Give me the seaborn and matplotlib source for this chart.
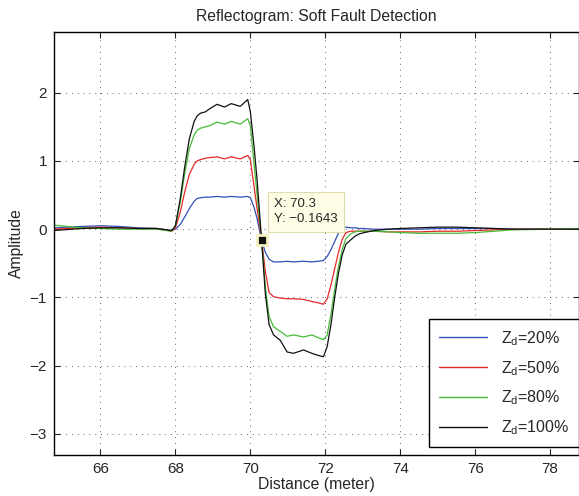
import numpy as np
import pandas as pd
import seaborn as sns
from matplotlib import pyplot as plt

# distance samples (meter)
dist = [64.75, 65.5, 66.0, 66.5, 67.0, 67.5, 67.9,
        68.0, 68.13, 68.25, 68.37, 68.5, 68.58, 68.67, 68.8, 68.93, 69.11, 69.31, 69.49, 69.73, 69.93,
        70.0, 70.1, 70.18, 70.3, 70.4, 70.5, 70.62, 70.8, 70.98, 71.15, 71.42, 71.64, 71.81, 71.95,
        72.05, 72.15, 72.25, 72.35, 72.45, 72.55, 72.67, 72.8, 72.9,
        73.04, 73.3, 73.7, 74.0, 74.5, 75.0, 75.5, 76.0, 76.5, 77.0, 78.0, 79.2]

zd20 = [0.02, 0.04, 0.05, 0.04, 0.02, 0.01, -0.02,
        0.0, 0.07, 0.18, 0.30, 0.41, 0.45, 0.46, 0.47, 0.47, 0.48, 0.47, 0.48, 0.47, 0.48,
        0.46, 0.32, 0.15, -0.16, -0.34, -0.44, -0.48, -0.48, -0.47, -0.48, -0.47, -0.48, -0.47, -0.46,
        -0.40, -0.30, -0.18, -0.06, 0.02, 0.03, 0.02, 0.02, 0.01,
        0.01, 0.0, 0.0, 0.0, 0.0, 0.01, 0.01, 0.01, 0.01, 0.0, 0.0, 0.0]

zd50 = [0.0, 0.02, 0.03, 0.02, 0.01, 0.01, -0.03,
        0.02, 0.25, 0.55, 0.80, 0.95, 1.00, 1.02, 1.04, 1.05, 1.06, 1.03, 1.06, 1.03, 1.08,
        1.02, 0.62, 0.30, -0.16, -0.62, -0.93, -0.99, -1.01, -1.02, -1.02, -1.03, -1.06, -1.08, -1.10,
        -1.02, -0.82, -0.58, -0.34, -0.15, -0.05, -0.03, -0.03, -0.03,
        -0.03, -0.03, -0.04, -0.04, -0.04, -0.03, -0.03, -0.02, -0.01, 0.0, 0.0, 0.0]

zd80 = [0.06, 0.02, 0.01, 0.0, 0.0, 0.0, -0.03,
        0.05, 0.40, 0.82, 1.18, 1.38, 1.45, 1.48, 1.50, 1.52, 1.57, 1.54, 1.58, 1.54, 1.62,
        1.52, 0.95, 0.50, -0.16, -0.85, -1.28, -1.43, -1.50, -1.57, -1.55, -1.58, -1.55, -1.59, -1.62,
        -1.55, -1.25, -0.88, -0.55, -0.30, -0.14, -0.07, -0.04, -0.03,
        -0.03, -0.03, -0.04, -0.05, -0.06, -0.06, -0.06, -0.05, -0.03, -0.01, 0.0, 0.01]

zd100 = [-0.02, 0.01, 0.02, 0.02, 0.01, 0.01, -0.02,
         0.05, 0.45, 0.92, 1.32, 1.58, 1.66, 1.70, 1.72, 1.77, 1.83, 1.79, 1.84, 1.80, 1.90,
         1.72, 1.20, 0.72, -0.16, -0.95, -1.40, -1.55, -1.63, -1.80, -1.82, -1.77, -1.82, -1.85, -1.87,
         -1.72, -1.40, -1.00, -0.65, -0.38, -0.22, -0.16, -0.10, -0.07,
         -0.05, -0.02, 0.0, 0.01, 0.02, 0.03, 0.03, 0.02, 0.01, 0.0, 0.0, 0.0]

labels = ['$\\mathregular{Z_d}$=20%', '$\\mathregular{Z_d}$=50%',
          '$\\mathregular{Z_d}$=80%', '$\\mathregular{Z_d}$=100%']
colors = ['#3350b8', '#e62828', '#45bb35', '#111111']

tip_x, tip_y = 70.3, -0.1643

dfs = []
for lab, y in zip(labels, [zd20, zd50, zd80, zd100]):
    d = pd.DataFrame({'dist': dist, 'amp': y})
    d['series'] = lab
    dfs.append(d)
df = pd.concat(dfs)

sns.set_style('ticks')
plt.rcParams['font.family'] = ['Liberation Sans', 'DejaVu Sans']
plt.rcParams['mathtext.fontset'] = 'custom'
plt.rcParams['mathtext.rm'] = 'Liberation Sans'
plt.rcParams['mathtext.it'] = 'Liberation Sans'

fig = plt.figure(figsize=(5.79, 4.96), dpi=100)
ax = fig.add_axes([54 / 579, 41 / 496, 525 / 579, 423 / 496])

sns.lineplot(data=df, x='dist', y='amp', hue='series', palette=colors,
             sort=False, estimator=None, linewidth=0.9, ax=ax)

ax.set_xlim(64.76, 78.77)
ax.set_ylim(-3.31, 2.89)
ax.set_xticks(range(66, 79, 2))
ax.set_yticks(range(-3, 3))
ax.set_yticklabels(['\u22123', '\u22122', '\u22121', '0', '1', '2'])
ax.tick_params(direction='in', length=4, labelsize=11, top=True, right=True, width=0.8, pad=5)
ax.grid(True, linestyle=(0, (1, 6)), color='#333333', linewidth=0.6)
for s in ax.spines.values():
    s.set_linewidth(1.0)
    s.set_color('black')

ax.set_xlabel('Distance (meter)', fontsize=11.3, labelpad=1)
ax.set_ylabel('Amplitude', fontsize=11.3, labelpad=4)
ax.set_title('Reflectogram: Soft Fault Detection', fontsize=11.3, pad=8)

# data tip
ax.plot([tip_x], [tip_y], marker='s', markersize=7, color='#111111',
        markeredgecolor='#f5f0c0', markeredgewidth=2, zorder=6)
ax.annotate('X: 70.3\nY: \u22120.1643', xy=(tip_x, tip_y), xytext=(9, 11),
            textcoords='offset points', fontsize=9.5, va='bottom', ha='left',
            linespacing=1.3,
            bbox=dict(boxstyle='square,pad=0.5', fc='#fffde6', ec='#e0dcb0', lw=0.8),
            zorder=7)

leg = ax.legend(loc='lower right', bbox_to_anchor=(1.0, 0.019), borderaxespad=0,
                fontsize=11.5, handlelength=3.0, handletextpad=0.9, labelspacing=0.7,
                borderpad=0.6, fancybox=False, framealpha=1, edgecolor='black')
leg.get_frame().set_linewidth(1.0)
for h in leg.get_lines():
    h.set_linewidth(1.0)

plt.savefig('out.png', dpi=100)
